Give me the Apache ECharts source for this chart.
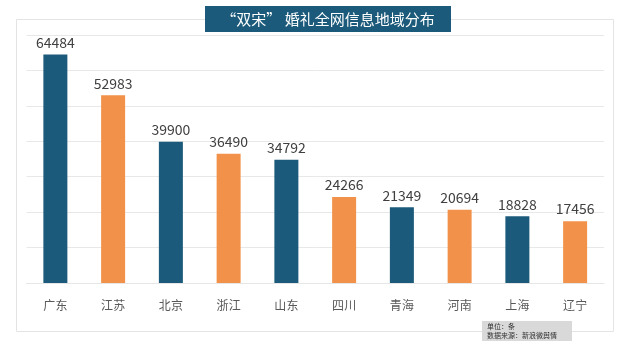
<!DOCTYPE html>
<html>
<head>
<meta charset="utf-8">
<script src="https://cdn.jsdelivr.net/npm/echarts@6/dist/echarts.min.js"></script>
<style>
html,body{margin:0;padding:0;background:#fff;}
#main{width:630px;height:346px;}
</style>
</head>
<body>
<div id="main"></div>
<script>
const titleText = '“双宋” 婚礼全网信息地域分布';
const categories = ['广东','江苏','北京','浙江','山东','四川','青海','河南','上海','辽宁'];
const values = [64484, 52983, 39900, 36490, 34792, 24266, 21349, 20694, 18828, 17456];
const noteLines = ['单位：条', '数据来源：新浪微舆情'];
const blue = '#1b5a7a', orange = '#f2924a';

const chart = echarts.init(document.getElementById('main'));
const font = '"Microsoft YaHei","Noto Sans CJK SC","Noto Sans",sans-serif';
chart.setOption({
  animation: false,
  textStyle: { fontFamily: font },
  grid: { left: 26.5, width: 577.5, top: 35, height: 248 },
  xAxis: {
    type: 'category', data: categories,
    axisLine: { show: true, lineStyle: { color: '#e6e6e6' } },
    axisTick: { show: false },
    axisLabel: { color: '#595959', fontSize: 12, margin: 16, fontFamily: font }
  },
  yAxis: {
    type: 'value', min: 0, max: 70000, interval: 10000,
    axisLabel: { show: false }, axisLine: { show: false }, axisTick: { show: false },
    splitLine: { lineStyle: { color: '#e8e8e8', width: 1 } }
  },
  series: [{
    type: 'bar', barWidth: 24,
    data: values.map((v, i) => ({ value: v, itemStyle: { color: i % 2 === 0 ? blue : orange } })),
    label: { show: true, position: 'top', distance: 5, color: '#404040', fontSize: 14, fontFamily: font }
  }],
  graphic: [
    { type: 'rect', z: -1, shape: { x: 16.5, y: 19.5, width: 597, height: 312 }, style: { fill: 'none', stroke: '#e4e4e4', lineWidth: 1 } },
    { type: 'rect', z: 10, shape: { x: 205, y: 6, width: 246, height: 26 }, style: { fill: blue } },
    { type: 'text', z: 11, x: 328, y: 19, style: { text: titleText, fill: '#ffffff', font: '15px ' + font, textAlign: 'center', textVerticalAlign: 'middle' } },
    { type: 'rect', z: 10, shape: { x: 482, y: 321, width: 90, height: 20 }, style: { fill: '#d9d9d9' } },
    { type: 'text', z: 11, x: 487, y: 322, style: { text: noteLines.join('\n'), fill: '#333333', font: '7px ' + font, lineHeight: 9 } }
  ]
});
</script>
</body>
</html>
